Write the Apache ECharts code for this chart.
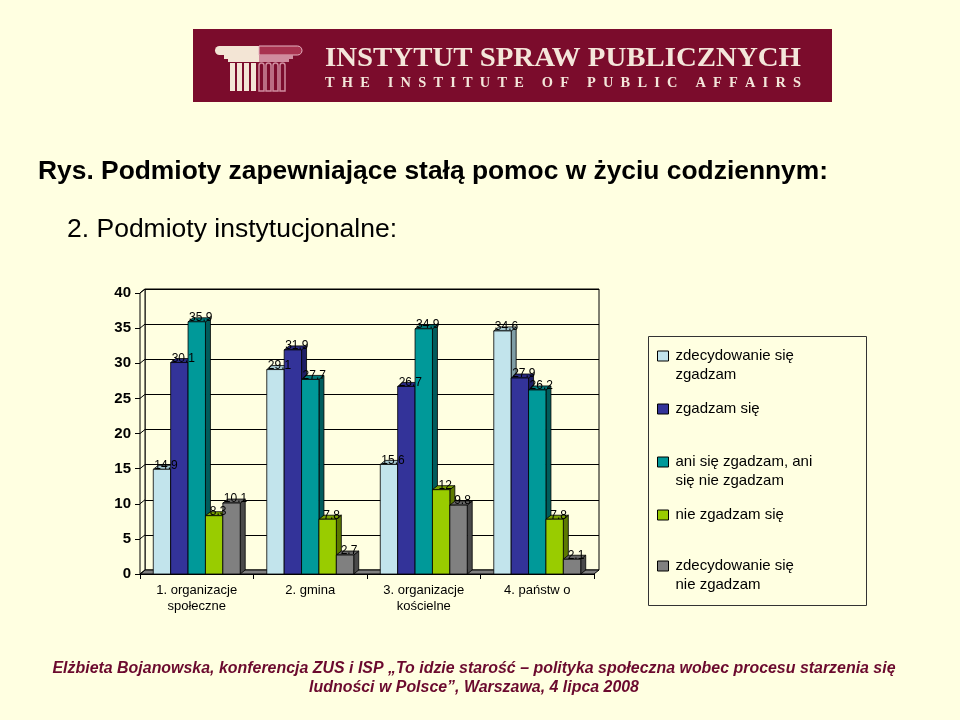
<!DOCTYPE html>
<html>
<head>
<meta charset="utf-8">
<script src="https://cdn.jsdelivr.net/npm/echarts@6/dist/echarts.min.js"></script>
<style>
  html, body { margin: 0; padding: 0; background: #FFFFE1; }
  #chart { width: 960px; height: 720px; }
</style>
</head>
<body>
<div id="chart"></div>
<script>
// dane
const categories = ['1. organizacje\nspołeczne', '2. gmina', '3. organizacje\nkościelne', '4. państw o'];
const seriesNames = [
  'zdecydowanie się zgadzam',
  'zgadzam się',
  'ani się zgadzam, ani się nie zgadzam',
  'nie zgadzam się',
  'zdecydowanie się nie zgadzam'
];
const stronglyAgree = [14.9, 29.1, 15.6, 34.6];
const agree = [30.1, 31.9, 26.7, 27.9];
const neutral = [35.9, 27.7, 34.9, 26.2];
const disagree = [8.3, 7.8, 12, 7.8];
const stronglyDisagree = [10.1, 2.7, 9.8, 2.1];
const yTicks = [0, 5, 10, 15, 20, 25, 30, 35, 40];

const allValues = [stronglyAgree, agree, neutral, disagree, stronglyDisagree];
const colors = ['#C2E4EC', '#333399', '#009999', '#99CC00', '#808080'];
const sideColors = ['#7F9DA5', '#1E1E66', '#005C5C', '#5C7A00', '#4A4A4A'];
const topColors = ['#A6C8D0', '#2A2A80', '#007A7A', '#7AA300', '#666666'];
// pusta pierwsza linia -> ikonka legendy na wysokości pierwszego wiersza
const legendWrap = {
  'zdecydowanie się zgadzam': '\nzdecydowanie się\nzgadzam',
  'ani się zgadzam, ani się nie zgadzam': '\nani się zgadzam, ani\nsię nie zgadzam',
  'zdecydowanie się nie zgadzam': '\nzdecydowanie się\nnie zgadzam'
};

const BG = '#FFFFE1';
const DX = 5, DY = -4; // głębokość efektu 3D
const SANS = '"Liberation Sans", Arial, sans-serif';
const SERIF = '"Liberation Serif", "Times New Roman", serif';

const mctx = document.createElement('canvas').getContext('2d');
const fitScale = (text, font, width) => {
  mctx.font = font;
  return width / mctx.measureText(text).width;
};

const chart = echarts.init(document.getElementById('chart'));

// słupki 3D rysowane serią custom
const barRenderer = (k) => (params, api) => {
  const cat = api.value(0);
  const val = api.value(1);
  const base = api.coord([cat, 0]);
  const top = api.coord([cat, val]);
  const band = api.size([1, 0])[0];
  const w = (band * 0.766) / 5;
  const x0 = base[0] - band * 0.383 + k * w;
  const x1 = x0 + w;
  const line = { stroke: '#000', lineWidth: 0.8 };
  return {
    type: 'group',
    children: [
      {
        type: 'polygon', z2: k,
        shape: { points: [[x1, top[1]], [x1 + DX, top[1] + DY], [x1 + DX, base[1] + DY], [x1, base[1]]] },
        style: { fill: sideColors[k], ...line }
      },
      {
        type: 'polygon', z2: k,
        shape: { points: [[x0, top[1]], [x0 + DX, top[1] + DY], [x1 + DX, top[1] + DY], [x1, top[1]]] },
        style: { fill: topColors[k], ...line }
      },
      {
        type: 'rect', z2: k,
        shape: { x: x0, y: top[1], width: w, height: base[1] - top[1] },
        style: { fill: colors[k], ...line }
      },
      {
        type: 'text', z2: 100,
        style: {
          text: String(val), x: (x0 + x1) / 2 + 4, y: top[1] - 4,
          align: 'center', verticalAlign: 'middle',
          fontSize: 12, fontFamily: SANS, fill: '#000'
        }
      }
    ]
  };
};

// podłoga i lewa ściana
const floorRenderer = (params, api) => {
  const cs = params.coordSys;
  const x = cs.x, yb = cs.y + cs.height, w = cs.width;
  const children = [
    {
      type: 'polygon',
      shape: { points: [[x, yb], [x + DX, yb + DY], [x + w + DX, yb + DY], [x + w, yb]] },
      style: { fill: '#808080', stroke: '#000', lineWidth: 1 }
    },
    {
      type: 'polygon',
      shape: { points: [[x, cs.y], [x + DX, cs.y + DY], [x + DX, yb + DY], [x, yb]] },
      style: { fill: BG, stroke: '#000', lineWidth: 1 }
    }
  ];
  yTicks.forEach((t) => {
    const p = api.coord([0, t]);
    children.push({
      type: 'line',
      shape: { x1: x, y1: p[1], x2: x + DX, y2: p[1] + DY },
      style: { stroke: '#000', lineWidth: 1 }
    });
  });
  return { type: 'group', children };
};

const legendCenters = [356, 409, 462, 515, 566];

// teksty (dopasowanie szerokości do oryginału)
const titleText = 'Rys. Podmioty zapewniające stałą pomoc w życiu codziennym:';
const subText = '2. Podmioty instytucjonalne:';
const foot1 = 'Elżbieta Bojanowska, konferencja ZUS i ISP „To idzie starość – polityka społeczna wobec procesu starzenia się';
const foot2 = 'ludności w Polsce”, Warszawa, 4 lipca 2008';
const logo1 = 'INSTYTUT SPRAW PUBLICZNYCH';
const logo2 = 'T  H  E     I  N  S  T  I  T  U  T  E     O  F     P  U  B  L  I  C     A  F  F  A  I  R  S';

const titleScale = fitScale(titleText, 'bold 26px "Liberation Sans"', 790);
const subScale = fitScale(subText, '25px "Liberation Sans"', 330);
const footScale = fitScale(foot1, 'italic bold 16px "Liberation Sans"', 843);
const logo1Scale = fitScale(logo1, 'bold 27px "Liberation Serif"', 476);
const logo2Scale = fitScale(logo2, 'bold 14px "Liberation Serif"', 476);

const option = {
  backgroundColor: BG,
  animation: false,
  legend: seriesNames.map((name, k) => {
    const twoLine = !!legendWrap[name];
    return {
      data: [name],
      left: 657,
      top: twoLine ? legendCenters[k] - 28.5 : legendCenters[k] - 9.5,
      padding: 0,
      icon: 'rect',
      itemWidth: 11,
      itemHeight: 10,
      selectedMode: false,
      itemStyle: { borderColor: '#000', borderWidth: 1 },
      formatter: (n) => legendWrap[n] || n,
      textStyle: { fontFamily: SANS, fontSize: 15, color: '#000', lineHeight: 19, padding: [0, 0, 0, 2] }
    };
  }),
  grid: [
    { left: 140, top: 293, width: 454, height: 281 },
    {
      left: 140 + DX, top: 293 + DY, width: 454, height: 281,
      show: true, borderColor: '#000', borderWidth: 1, backgroundColor: 'transparent'
    }
  ],
  xAxis: [
    {
      type: 'category', gridIndex: 0, data: categories,
      axisLine: { show: true, lineStyle: { color: '#000', width: 1 } },
      axisTick: { show: true, length: 5, lineStyle: { color: '#000' } },
      axisLabel: { color: '#000', fontFamily: SANS, fontSize: 13, lineHeight: 16, margin: 8 }
    },
    { type: 'category', gridIndex: 1, data: categories, show: false }
  ],
  yAxis: [
    {
      type: 'value', gridIndex: 0, min: 0, max: 40, interval: 5,
      axisLine: { show: true, lineStyle: { color: '#000', width: 1 } },
      axisTick: { show: true, length: 5, lineStyle: { color: '#000' } },
      splitLine: { show: false },
      axisLabel: { color: '#000', fontFamily: SANS, fontSize: 15, fontWeight: 'bold', margin: 9 }
    },
    {
      type: 'value', gridIndex: 1, min: 0, max: 40, interval: 5,
      axisLine: { show: false }, axisTick: { show: false }, axisLabel: { show: false },
      splitLine: { show: true, lineStyle: { color: '#000', width: 1 } }
    }
  ],
  series: [
    {
      type: 'custom', name: 'floor', z: 1, silent: true,
      xAxisIndex: 0, yAxisIndex: 0,
      renderItem: floorRenderer,
      data: [[0, 0]]
    },
    ...allValues.map((vals, k) => ({
      type: 'custom',
      name: seriesNames[k],
      xAxisIndex: 0, yAxisIndex: 0,
      itemStyle: { color: colors[k] },
      renderItem: barRenderer(k),
      encode: { x: 0, y: 1 },
      data: vals.map((v, i) => [i, v])
    }))
  ],
  graphic: [
    // tytuły
    {
      type: 'text', silent: true, x: 38, y: 172, scaleX: titleScale,
      style: { text: titleText, x: 0, y: 0, verticalAlign: 'middle', fontFamily: SANS, fontWeight: 'bold', fontSize: 26, fill: '#000' }
    },
    {
      type: 'text', silent: true, x: 67, y: 230, scaleX: subScale,
      style: { text: subText, x: 0, y: 0, verticalAlign: 'middle', fontFamily: SANS, fontSize: 25, fill: '#000' }
    },
    // legenda – ramka
    {
      type: 'rect', silent: true, z: -1,
      shape: { x: 648.5, y: 336.5, width: 218, height: 269 },
      style: { fill: 'transparent', stroke: '#333', lineWidth: 1 }
    },
    // logo
    {
      type: 'group', silent: true,
      children: [
        { type: 'rect', shape: { x: 193, y: 29, width: 639, height: 73 }, style: { fill: '#7B0C2C' } },
        { type: 'rect', shape: { x: 215, y: 46, width: 44, height: 9, r: [4.5, 0, 0, 4.5] }, style: { fill: '#F3E5D5' } },
        { type: 'rect', shape: { x: 259, y: 46, width: 43, height: 9, r: [0, 4.5, 4.5, 0] }, style: { fill: '#A8324F', stroke: '#E6B5C2', lineWidth: 1 } },
        { type: 'rect', shape: { x: 224, y: 55, width: 35, height: 4 }, style: { fill: '#F3E5D5' } },
        { type: 'rect', shape: { x: 259, y: 55, width: 34, height: 4 }, style: { fill: '#D08C9E' } },
        { type: 'rect', shape: { x: 228, y: 59, width: 31, height: 3 }, style: { fill: '#F3E5D5' } },
        { type: 'rect', shape: { x: 259, y: 59, width: 30, height: 3 }, style: { fill: '#D08C9E' } },
        ...[230, 237, 244, 251].map((cx) => ({ type: 'rect', shape: { x: cx, y: 63, width: 5, height: 28 }, style: { fill: '#F3E5D5' } })),
        ...[259, 266, 273, 280].map((cx) => ({ type: 'rect', shape: { x: cx, y: 63, width: 5, height: 28, r: [2.5, 2.5, 0, 0] }, style: { fill: 'transparent', stroke: '#D08C9E', lineWidth: 1.5 } })),
        {
          type: 'text', x: 325, y: 59, scaleX: logo1Scale,
          style: { text: logo1, x: 0, y: 0, verticalAlign: 'middle', fontFamily: SERIF, fontWeight: 'bold', fontSize: 27, fill: '#F4E6DA' }
        },
        {
          type: 'text', x: 325, y: 83, scaleX: logo2Scale,
          style: { text: logo2, x: 0, y: 0, verticalAlign: 'middle', fontFamily: SERIF, fontWeight: 'bold', fontSize: 14, fill: '#F4E6DA' }
        }
      ]
    },
    // stopka
    {
      type: 'text', silent: true, x: 474, y: 669, scaleX: footScale,
      style: { text: foot1, x: 0, y: 0, align: 'center', verticalAlign: 'middle', fontFamily: SANS, fontStyle: 'italic', fontWeight: 'bold', fontSize: 16, fill: '#6B0A2E' }
    },
    {
      type: 'text', silent: true, x: 474, y: 688, scaleX: footScale,
      style: { text: foot2, x: 0, y: 0, align: 'center', verticalAlign: 'middle', fontFamily: SANS, fontStyle: 'italic', fontWeight: 'bold', fontSize: 16, fill: '#6B0A2E' }
    }
  ]
};

chart.setOption(option);
</script>
</body>
</html>
